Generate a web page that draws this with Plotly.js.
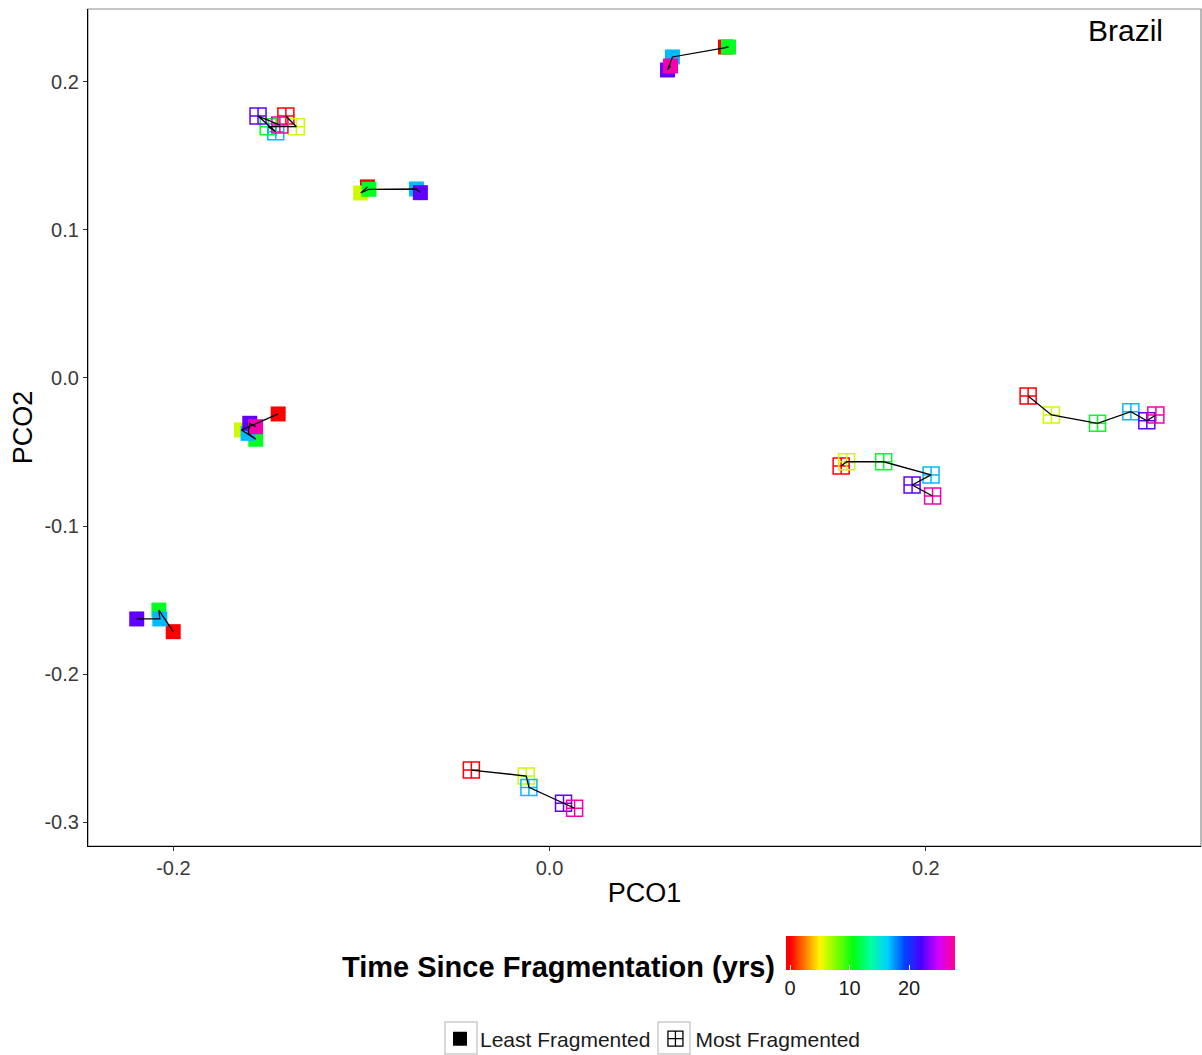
<!DOCTYPE html>
<html>
<head>
<meta charset="utf-8">
<script src="https://cdn.plot.ly/plotly-3.0.1.min.js"></script>
<style>html,body{margin:0;padding:0;background:#fff;}#chart{width:1202px;height:1055px;}</style>
</head>
<body>
<div id="chart"></div>
<script>
// Time since fragmentation (yrs) for each survey in a trajectory
// Least Fragmented sites (filled squares)
const L1_x = [0.0935, 0.0951, 0.0653, 0.0627, 0.0643];
const L1_y = [0.2236, 0.2236, 0.2169, 0.2081, 0.2108];
const L1_t = [0, 11, 16.8, 22.5, 27];

const L2_x = [-0.0968, -0.1004, -0.0960, -0.0708, -0.0687];
const L2_y = [0.1291, 0.1250, 0.1275, 0.1277, 0.1252];
const L2_t = [0, 6, 11, 16.8, 22.5];

const L3_x = [-0.1443, -0.1638, -0.1562, -0.1603, -0.1594, -0.1563];
const L3_y = [-0.0243, -0.0351, -0.0414, -0.0374, -0.0306, -0.0329];
const L3_t = [0, 6, 11, 16.8, 22.5, 27];

const L4_x = [-0.2001, -0.2077, -0.2072, -0.2195];
const L4_y = [-0.1714, -0.1568, -0.1628, -0.1628];
const L4_t = [0, 11, 16.8, 22.5];

// Most Fragmented sites (open squares with cross)
const M1_x = [-0.1402, -0.1346, -0.1496, -0.1456, -0.1550, -0.1434];
const M1_y = [0.1770, 0.1698, 0.1698, 0.1664, 0.1770, 0.1709];
const M1_t = [0, 6, 11, 16.8, 22.5, 27];

const M2_x = [-0.0416, -0.0124, -0.0110, 0.0074, 0.0133];
const M2_y = [-0.2649, -0.2689, -0.2766, -0.2874, -0.2907];
const M2_t = [0, 6, 16.8, 22.5, 27];

const M3_x = [0.1550, 0.1579, 0.1776, 0.2028, 0.1927, 0.2036];
const M3_y = [-0.0595, -0.0566, -0.0566, -0.0655, -0.0723, -0.0797];
const M3_t = [0, 6, 11, 16.8, 22.5, 27];

const M4_x = [0.2544, 0.2668, 0.2913, 0.3090, 0.3175, 0.3223];
const M4_y = [-0.0122, -0.0250, -0.0306, -0.0228, -0.0289, -0.0250];
const M4_t = [0, 6, 11, 16.8, 22.5, 27];

const xTickVals = [-0.2, 0.0, 0.2];
const xTickText = ["-0.2", "0.0", "0.2"];
const yTickVals = [-0.3, -0.2, -0.1, 0.0, 0.1, 0.2];
const yTickText = ["-0.3", "-0.2", "-0.1", "0.0", "0.1", "0.2"];
const cbTickVals = [0, 10, 20];

const rainbow = [
  [0.000, '#FF0000'], [0.025, '#FF0000'], [0.100, '#FF6A00'], [0.200, '#FFF700'],
  [0.300, '#7BFF00'], [0.400, '#00FF12'], [0.500, '#00FF9F'], [0.600, '#00D1FF'],
  [0.700, '#0045FF'], [0.800, '#4800FF'], [0.900, '#D400FF'], [1.000, '#FF0095']
];
const CMIN = -0.7, CMAX = 27.7;

const least = [[L1_x, L1_y, L1_t], [L2_x, L2_y, L2_t], [L3_x, L3_y, L3_t], [L4_x, L4_y, L4_t]];
const most = [[M1_x, M1_y, M1_t], [M2_x, M2_y, M2_t], [M3_x, M3_y, M3_t], [M4_x, M4_y, M4_t]];

const font = 'Liberation Sans, Arial, sans-serif';
const traces = [];
let first = true;
function addSite(s, symbol, size, lw) {
  const m = {
    type: 'scatter', mode: 'markers', x: s[0], y: s[1], showlegend: false, hoverinfo: 'x+y',
    marker: {symbol: symbol, size: size, color: s[2], colorscale: rainbow, cmin: CMIN, cmax: CMAX,
             line: {width: lw}, showscale: first}
  };
  if (first) {
    m.marker.colorbar = {
      orientation: 'h', xref: 'container', yref: 'container',
      x: 940 / 1202, xanchor: 'center', y: 1 - 970 / 1055, yanchor: 'middle',
      lenmode: 'pixels', len: 169, thicknessmode: 'pixels', thickness: 34,
      xpad: 0, ypad: 0, outlinewidth: 0,
      tickvals: cbTickVals, ticks: 'inside', tickcolor: '#ffffff', ticklen: 5, tickwidth: 1.2,
      tickfont: {family: font, size: 20, color: '#1a1a1a'}
    };
    first = false;
  }
  traces.push(m);
  traces.push({
    type: 'scatter', mode: 'lines', x: s[0], y: s[1], showlegend: false, hoverinfo: 'skip',
    line: {color: '#000000', width: 1.3}
  });
}
least.forEach(s => addSite(s, 'square', 15, 0));
most.forEach(s => addSite(s, 'square-cross-open', 16, 1.5));

traces.push({type: 'scatter', mode: 'markers', x: [null], y: [null], name: 'Least Fragmented',
  marker: {symbol: 'square', size: 14, color: '#000000'}});
traces.push({type: 'scatter', mode: 'markers', x: [null], y: [null], name: 'Most Fragmented',
  marker: {symbol: 'square-cross-open', size: 15, color: '#000000', line: {width: 1.3}}});

function px2paperX(px) { return (px - 88) / 1113; }
function px2paperY(py) { return (846 - py) / 837; }

const layout = {
  width: 1202, height: 1055,
  margin: {l: 88, r: 1, t: 9, b: 209, autoexpand: false},
  paper_bgcolor: '#ffffff', plot_bgcolor: '#ffffff',
  font: {family: font, color: '#000000'},
  showlegend: true,
  legend: {orientation: 'h', x: px2paperX(653), xanchor: 'center', y: px2paperY(1039), yanchor: 'middle',
           bgcolor: 'rgba(0,0,0,0)',
           font: {family: font, size: 21, color: '#1a1a1a'}, itemgap: 1, traceorder: 'normal'},
  xaxis: {
    range: [-0.2454, 0.3463], showgrid: false, zeroline: false,
    showline: true, linecolor: '#000000', linewidth: 1.2,
    ticks: 'outside', ticklen: 4, tickcolor: '#333333', tickwidth: 1.2,
    tickvals: xTickVals, ticktext: xTickText,
    tickfont: {family: font, size: 20, color: '#3a3a3a'},
    title: {text: 'PCO1', font: {family: font, size: 27, color: '#000000'}, standoff: 5}
  },
  yaxis: {
    range: [-0.3162, 0.2493], showgrid: false, zeroline: false,
    showline: true, linecolor: '#000000', linewidth: 1.2,
    ticks: 'outside', ticklen: 4, tickcolor: '#333333', tickwidth: 1.2,
    tickvals: yTickVals, ticktext: yTickText,
    tickfont: {family: font, size: 20, color: '#3a3a3a'},
    title: {text: 'PCO2', font: {family: font, size: 27, color: '#000000'}, standoff: 3}
  },
  shapes: [
    {type: 'rect', xref: 'paper', yref: 'paper', x0: 0, x1: 1, y0: 0, y1: 1, layer: 'below',
     line: {color: '#8c8c8c', width: 1.2}},
    {type: 'rect', xref: 'paper', yref: 'paper', x0: px2paperX(445), x1: px2paperX(477),
     y0: px2paperY(1054), y1: px2paperY(1022), line: {color: '#cccccc', width: 1.5}},
    {type: 'rect', xref: 'paper', yref: 'paper', x0: px2paperX(658), x1: px2paperX(690),
     y0: px2paperY(1054), y1: px2paperY(1022), line: {color: '#cccccc', width: 1.5}}
  ],
  annotations: [
    {xref: 'x', yref: 'y', x: 0.306, y: 0.235, text: 'Brazil', showarrow: false,
     xanchor: 'center', yanchor: 'middle', font: {family: font, size: 30, color: '#000000'}},
    {xref: 'paper', yref: 'paper', x: px2paperX(777), y: px2paperY(967), xanchor: 'right', yanchor: 'middle',
     text: '<b>Time Since Fragmentation (yrs)</b>', showarrow: false,
     font: {family: font, size: 29, color: '#000000'}}
  ]
};

Plotly.newPlot('chart', traces, layout, {displayModeBar: false});
</script>
</body>
</html>
